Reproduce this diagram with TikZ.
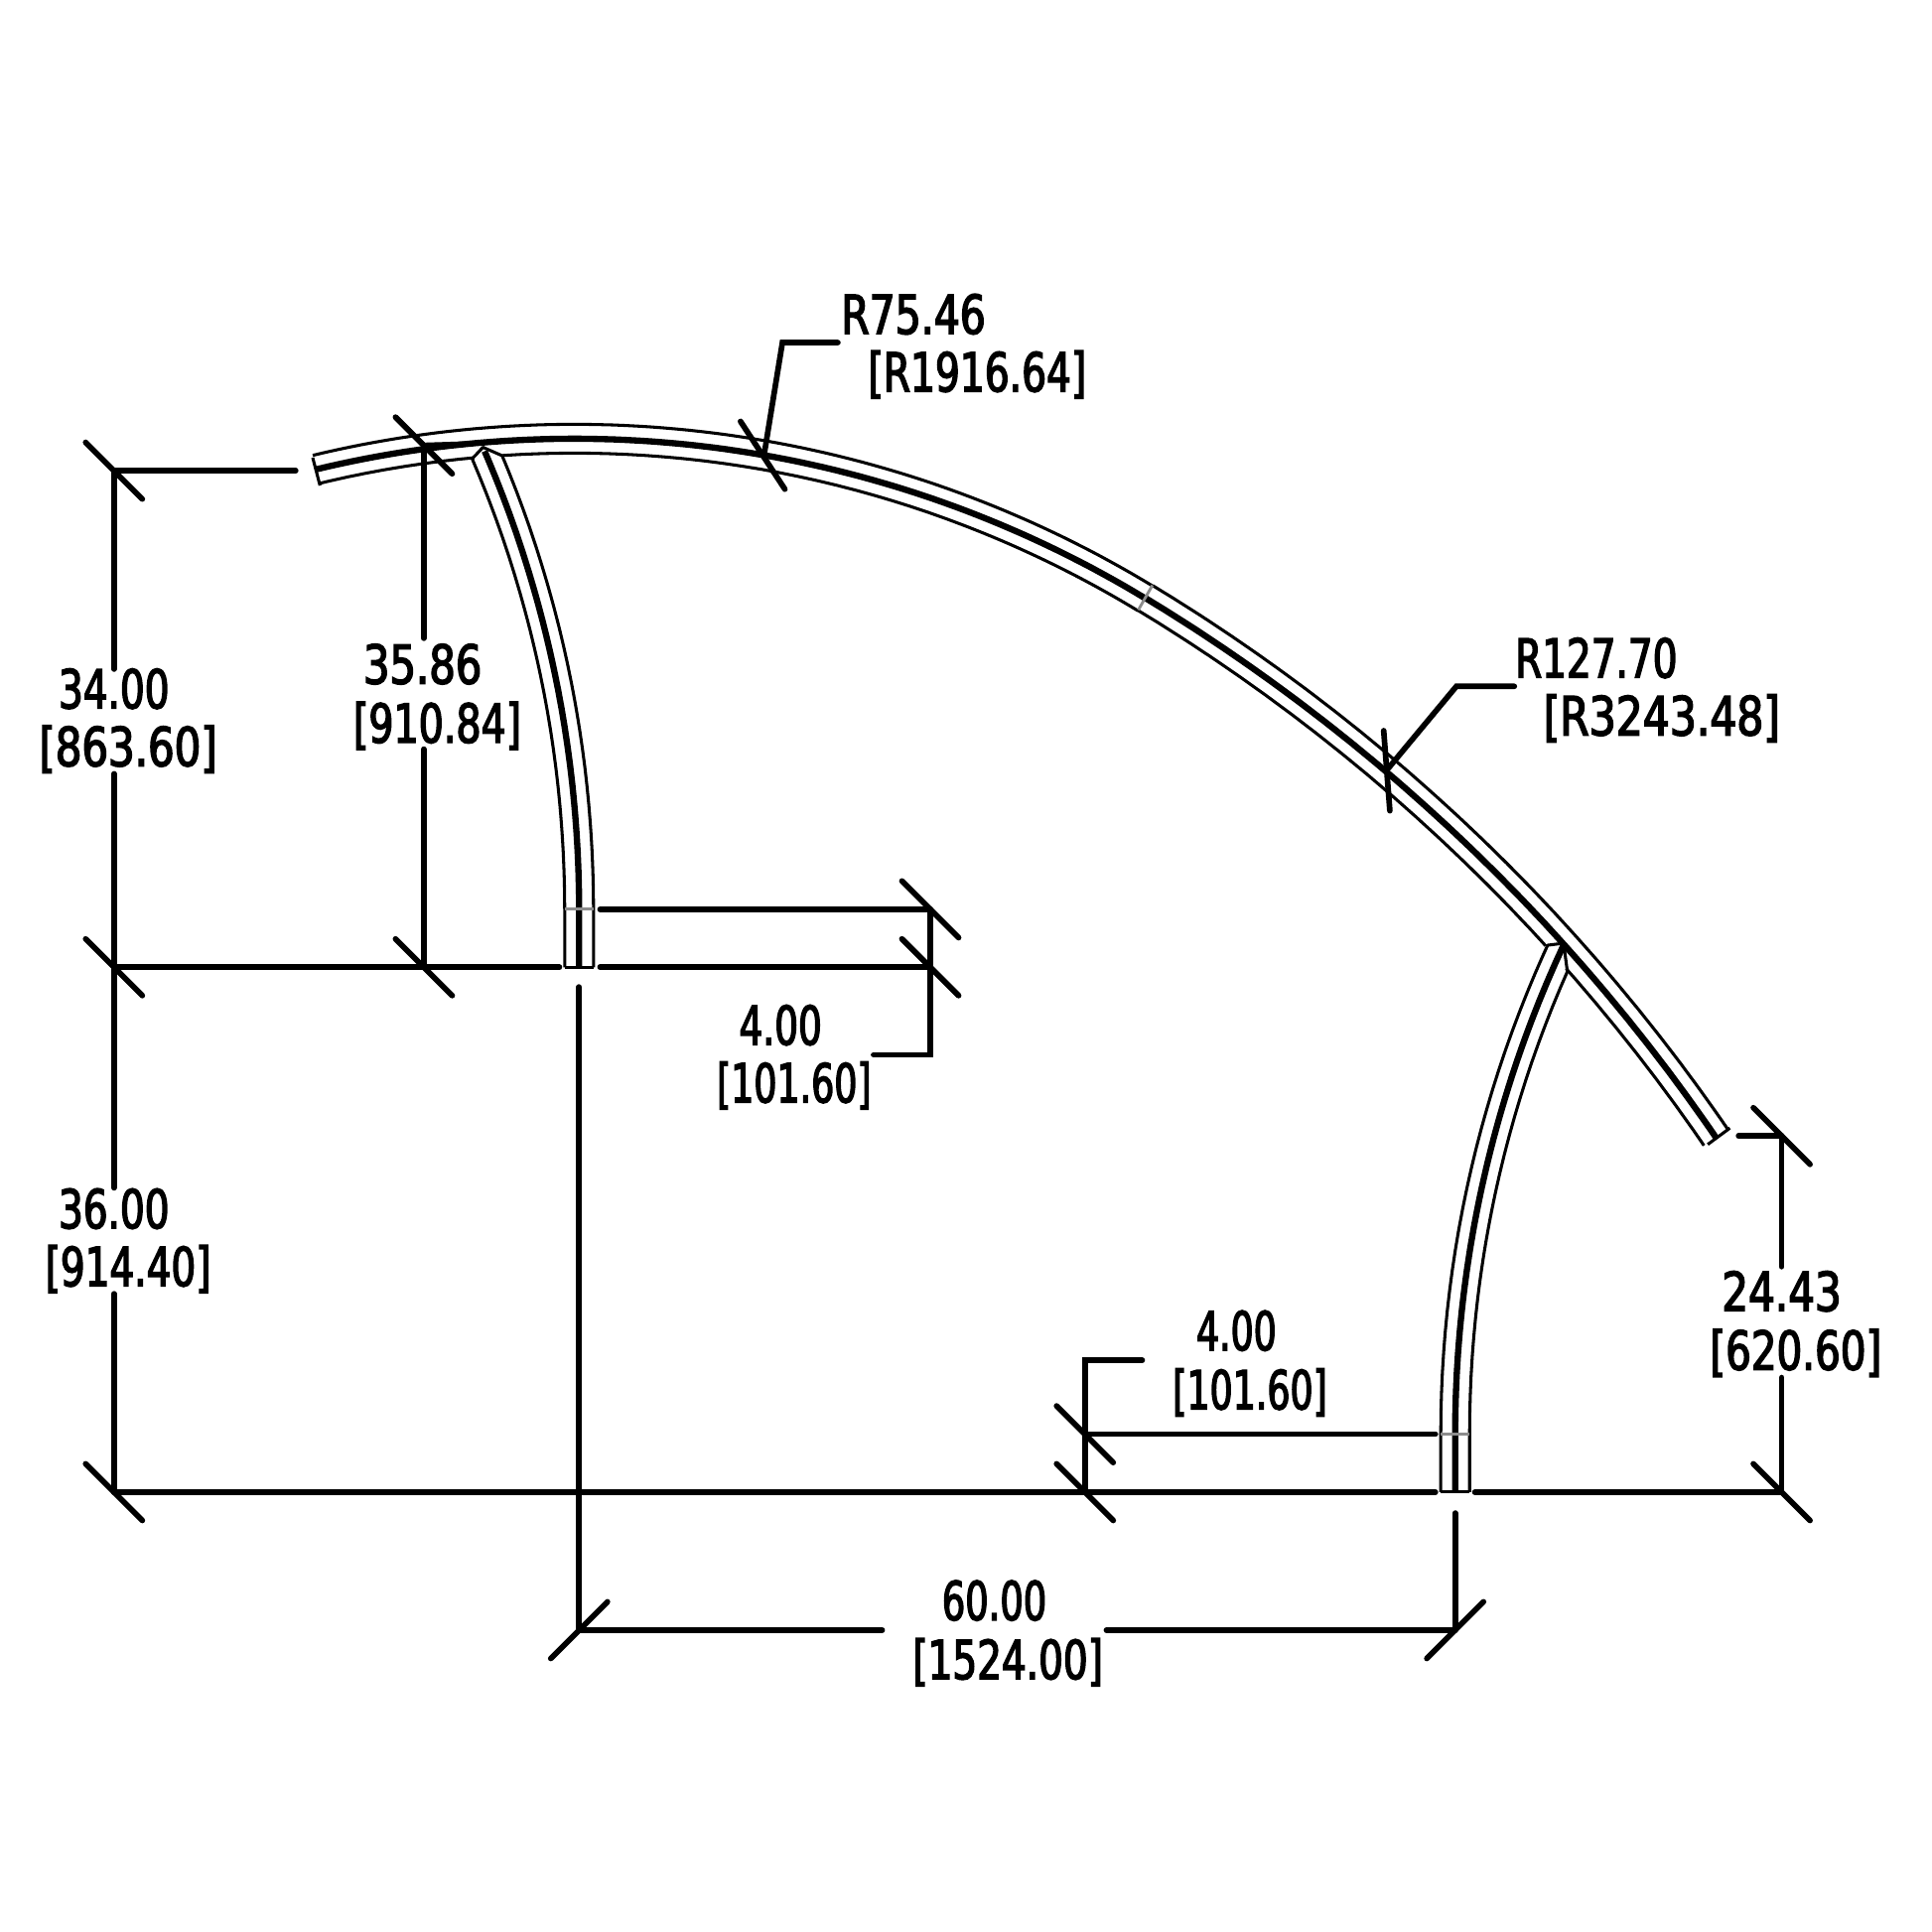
\documentclass[tikz,border=0pt]{standalone}
\usepackage{fontspec}
\usepackage{graphicx}
\setmainfont[FakeStretch=0.72,FakeBold=2.6]{DejaVu Sans}
\tikzset{
  dimline/.style={line width=1.3pt,line cap=round,line join=miter,black},
  thinline/.style={line width=0.7pt,black,line join=round},
  coreline/.style={line width=1.45pt,black,line join=round},
  seam/.style={line width=0.65pt,black!45},
  dimtext/.style={inner sep=0pt,font=\fontsize{12.4}{14}\selectfont,black},
  lefttext/.style={dimtext,anchor=west},
}
\newcommand{\xs}[2]{\scalebox{#1}[1]{#2}}
% arcs measured from the vertical, in y-down picture units
\newcommand{\hoop}[6][thinline]{\draw[#1] plot[domain=#5:#6,samples=70] ({#2+#4*sin(\x)},{#3-#4*cos(\x)});}
\newcommand{\legleft}[4][thinline]{\draw[#1] (-470+#2,785) -- (-470+#2,738) -- plot[domain=0:#3,samples=50] ({-470+#2*cos(\x)},{738-#2*sin(\x)}) #4;}
\newcommand{\legright}[4][thinline]{\draw[#1] (2121-#2,1211) -- (2121-#2,1164) -- plot[domain=0:#3,samples=50] ({2121-#2*cos(\x)},{1164-#2*sin(\x)}) #4;}
\newcommand{\slashtick}[1]{\draw[dimline] ([shift={(-23,-23)}]#1) -- ([shift={(23,23)}]#1);}
\newcommand{\backtick}[1]{\draw[dimline] ([shift={(-23,23)}]#1) -- ([shift={(23,-23)}]#1);}
\begin{document}
\begin{tikzpicture}[x=0.01cm,y=-0.01cm]
\useasboundingbox (0,0) rectangle (1568,1568);
% ---- main rib
\hoop{466}{1250}{905.7}{-13.55}{31.24}
\hoop[coreline]{466}{1250}{894}{-13.55}{31.24}
\hoop{466}{1250}{882.3}{-13.55}{-5.27}
\hoop{466}{1250}{882.3}{-3.77}{31.24}
\hoop{145}{1778.9}{1524.7}{31.24}{55.55}
\hoop[coreline]{145}{1778.9}{1513}{31.24}{55.55}
\hoop{145}{1778.9}{1501.3}{31.24}{47.65}
\hoop{145}{1778.9}{1501.3}{48.6}{55.55}
% rib end caps
\coordinate (capLa) at (253.8,371.4); \coordinate (capLb) at (259.7,394);
\coordinate (capRa) at (1404,915.5); \coordinate (capRb) at (1386,928.8);
\draw[thinline] (capLa) -- (capLb);
\draw[thinline] (capRa) -- (capRb);
% seam on the rib
\coordinate (seamA) at (935.3,475); \coordinate (seamB) at (923.9,495);
\draw[seam] (seamA) -- (seamB);
% ---- left leg
\legleft{928.3}{23.2}{-- (392,363) -- (408,370)}
\legleft[coreline]{940}{23.3}{}
\legleft{951.7}{22.74}{}
\draw[thinline] (458.3,785) -- (481.7,785);
\draw[seam] (458.3,737.8) -- (481.7,737.8);
% ---- right leg
\legright{951.7}{24.65}{-- (1269,765.5) -- (1270.4,776) -- (1272,788)}
\legright[coreline]{940}{25}{}
\legright{928.3}{23.9}{}
\draw[thinline] (1169.3,1211) -- (1192.7,1211);
\draw[seam] (1169.3,1164) -- (1192.7,1164);
% ---- dimension points
\coordinate (A) at (92.5,382);
\coordinate (B) at (92.5,785);
\coordinate (C) at (92.5,1211);
\coordinate (D) at (344,361.5);
\coordinate (E) at (344,785);
\coordinate (F) at (755,738);
\coordinate (G) at (755,785);
\coordinate (H) at (470,1323);
\coordinate (I) at (1181,1323);
\coordinate (J) at (880.5,1164);
\coordinate (K) at (880.5,1211);
\coordinate (L) at (1446,1211);
\coordinate (M) at (1446,922);
\coordinate (P) at (620,370);
\coordinate (Q) at (1125.5,625);
% ---- labels
\node[dimtext] (t34a) at (92.5,559) {34.00};
\node[dimtext] (t34b) at (104,608) {\xs{1.075}{[863.60]}};
\node[dimtext] (t36a) at (92.5,981) {36.00};
\node[dimtext] (t36b) at (104,1030) {[914.40]};
\node[dimtext] (t35a) at (343,539) {\xs{1.07}{35.86}};
\node[dimtext] (t35b) at (355,589) {\xs{1.015}{[910.84]}};
\node[dimtext] (t4a) at (633.5,832) {\xs{0.96}{4.00}};
\node[dimtext] (t4b) at (644.5,881) {\xs{0.933}{[101.60]}};
\node[dimtext] (t4c) at (1003.5,1080) {\xs{0.93}{4.00}};
\node[dimtext] (t4d) at (1014.5,1130) {\xs{0.933}{[101.60]}};
\node[dimtext] (t60a) at (807,1299) {\xs{0.945}{60.00}};
\node[dimtext] (t60b) at (818,1349) {[1524.00]};
\node[dimtext] (t24a) at (1446,1048) {\xs{1.08}{24.43}};
\node[dimtext] (t24b) at (1457.5,1098) {\xs{1.037}{[620.60]}};
\node[lefttext] (r75a) at (682,255) {\xs{1.05}{R75.46}};
\node[lefttext] (r75b) at (704,304) {\xs{1.005}{[R1916.64]}};
\node[lefttext] (r127a) at (1229,534) {R127.70};
\node[lefttext] (r127b) at (1252,583) {\xs{1.09}{[R3243.48]}};
% ---- ticks
\slashtick{A}\slashtick{B}\slashtick{C}\slashtick{D}\slashtick{E}
\slashtick{F}\slashtick{G}\slashtick{J}\slashtick{K}\slashtick{L}\slashtick{M}
\backtick{H}\backtick{I}
\draw[dimline] (601,342) -- (637,397);
\draw[dimline] (1123,593) -- (1128,658);
% ---- dimension lines
\draw[dimline] (A) -- (240,382);
\draw[dimline] (A) -- (92.5,543);
\draw[dimline] (92.5,628) -- (B);
\draw[dimline] (B) -- (92.5,964);
\draw[dimline] (92.5,1050) -- (C);
\draw[dimline] (B) -- (454,785);
\draw[dimline] (D) -- (344,518);
\draw[dimline] (344,608) -- (E);
\draw[dimline] (344,361.5) -- (376,360.5);
\draw[dimline] (487,785) -- (G);
\draw[dimline] (487,738) -- (F);
\draw[dimline] (F) -- (755,856) -- (709,856);
\draw[dimline] (470,801) -- (H);
\draw[dimline] (H) -- (716,1323);
\draw[dimline] (898,1323) -- (I);
\draw[dimline] (1181,1228) -- (I);
\draw[dimline] (C) -- (1165,1211);
\draw[dimline] (1197,1211) -- (L);
\draw[dimline] (K) -- (880.5,1104) -- (927,1104);
\draw[dimline] (J) -- (1165,1164);
\draw[dimline] (1411,922) -- (M);
\draw[dimline] (M) -- (1446,1028);
\draw[dimline] (1446,1118) -- (L);
\draw[dimline] (680,278) -- (635,278) -- (P);
\draw[dimline] (1229,557) -- (1182,557) -- (Q);
\end{tikzpicture}
\end{document}
